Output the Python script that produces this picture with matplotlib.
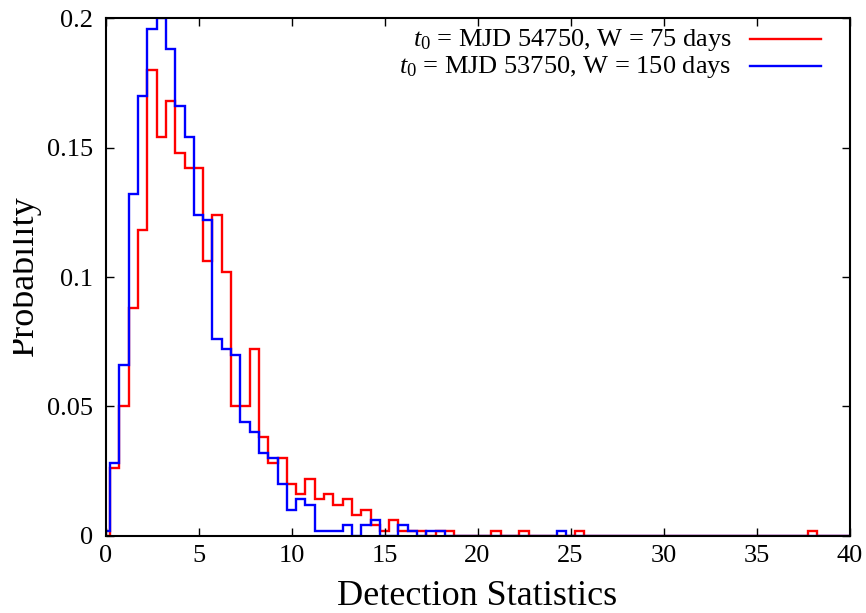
import numpy as np
import matplotlib
matplotlib.use("Agg")
import matplotlib.pyplot as plt
from matplotlib.transforms import Bbox

plt.rcParams['font.family'] = ['Liberation Serif', 'DejaVu Serif']
plt.rcParams['mathtext.fontset'] = 'custom'
plt.rcParams['mathtext.rm'] = 'Liberation Serif'
plt.rcParams['mathtext.it'] = 'Liberation Serif:italic'

# bin centres every 0.5 from 0 to 40; values = probability density per bin
bin_width = 0.5
red_label = "$t_0$ = MJD 54750, W = 75 days"
blue_label = "$t_0$ = MJD 53750, W = 150 days"

red_values = [
    0.000, 0.026, 0.050, 0.088, 0.118, 0.180, 0.154, 0.168, 0.148, 0.142,   # 0 - 4.5
    0.142, 0.106, 0.124, 0.102, 0.050, 0.050, 0.072, 0.038, 0.028, 0.030,   # 5 - 9.5
    0.020, 0.016, 0.022, 0.014, 0.016, 0.012, 0.014, 0.008, 0.010, 0.004,   # 10 - 14.5
    0.002, 0.006, 0.002, 0.002, 0.002, 0.000, 0.002, 0.002, 0.000, 0.000,   # 15 - 19.5
    0.000, 0.000, 0.002, 0.000, 0.000, 0.002, 0.000, 0.000, 0.000, 0.000,   # 20 - 24.5
    0.000, 0.002, 0.000, 0.000, 0.000, 0.000, 0.000, 0.000, 0.000, 0.000,   # 25 - 29.5
    0.000, 0.000, 0.000, 0.000, 0.000, 0.000, 0.000, 0.000, 0.000, 0.000,   # 30 - 34.5
    0.000, 0.000, 0.000, 0.000, 0.000, 0.000, 0.002, 0.000, 0.000, 0.000,   # 35 - 39.5
    0.000,                                                                  # 40
]
blue_values = [
    0.002, 0.028, 0.066, 0.132, 0.170, 0.196, 0.200, 0.188, 0.166, 0.154,   # 0 - 4.5
    0.124, 0.122, 0.076, 0.072, 0.070, 0.044, 0.040, 0.032, 0.030, 0.020,   # 5 - 9.5
    0.010, 0.014, 0.012, 0.002, 0.002, 0.002, 0.004, 0.000, 0.004, 0.006,   # 10 - 14.5
    0.000, 0.000, 0.004, 0.002, 0.000, 0.002, 0.002, 0.000, 0.000, 0.000,   # 15 - 19.5
    0.000, 0.000, 0.000, 0.000, 0.000, 0.000, 0.000, 0.000, 0.000, 0.002,   # 20 - 24.5
    0.000, 0.000, 0.000, 0.000, 0.000, 0.000, 0.000, 0.000, 0.000, 0.000,   # 25 - 29.5
    0.000, 0.000, 0.000, 0.000, 0.000, 0.000, 0.000, 0.000, 0.000, 0.000,   # 30 - 34.5
    0.000, 0.000, 0.000, 0.000, 0.000, 0.000, 0.000, 0.000, 0.000, 0.000,   # 35 - 39.5
    0.000,                                                                  # 40
]
x_ticks = [0, 5, 10, 15, 20, 25, 30, 35, 40]
y_ticks = [0, 0.05, 0.1, 0.15, 0.2]
y_tick_labels = ["0", "0.05", "0.1", "0.15", "0.2"]

W, H = 866, 613
fig = plt.figure(figsize=(W / 100, H / 100), dpi=100)
x0, x1 = 105.5, 849.5
y0, y1 = 535.7, 18.3
ax = fig.add_axes([x0 / W, 1 - y0 / H, (x1 - x0) / W, (y0 - y1) / H])

centers = np.arange(len(red_values)) * bin_width
edges = np.concatenate([centers - bin_width / 2, [centers[-1] + bin_width / 2]])

ax.stairs(red_values, edges, color='#ff0000', linewidth=1.7, baseline=0)
ax.stairs(blue_values, edges, color='#0000ff', linewidth=1.7, baseline=0)

ax.set_xlim(0, 40)
ax.set_ylim(0, 0.2)
ax.set_xticks(x_ticks)
ax.set_yticks(y_ticks)
ax.set_yticklabels(y_tick_labels)
ax.tick_params(direction='in', length=6, width=1, top=True, right=True,
               labelsize=19, colors='black')
ax.tick_params(axis='x', pad=7)
ax.tick_params(axis='y', pad=9)
for s in ax.spines.values():
    s.set_linewidth(1.5)
    s.set_color('black')

ax.set_xlabel("Detection Statistics", fontsize=26, labelpad=9)

# y label partially clipped at the left like the reference
ylab = fig.text(33 / W, 1 - 276 / H, "Probability", rotation=90, fontsize=26,
                ha='center', va='baseline', rotation_mode='anchor')
ylab.set_clip_box(Bbox([[13, 0], [W, H]]))
ylab.set_clip_on(True)

# legend (manual, right aligned text with line samples)
leg_rows = [(red_label, '#ff0000', 46.0, 39.0), (blue_label, '#0000ff', 72.5, 65.7)]
for label, col, ybase, yline in leg_rows:
    ax.text((731.7 - x0) / (x1 - x0), (y0 - ybase) / (y0 - y1), label,
            transform=ax.transAxes, ha='right', va='baseline', fontsize=19)
    ax.plot([(750 - x0) / (x1 - x0), (820.7 - x0) / (x1 - x0)],
            [(y0 - yline) / (y0 - y1)] * 2, transform=ax.transAxes,
            color=col, linewidth=1.7, clip_on=False)

fig.savefig("out.png", dpi=100)
